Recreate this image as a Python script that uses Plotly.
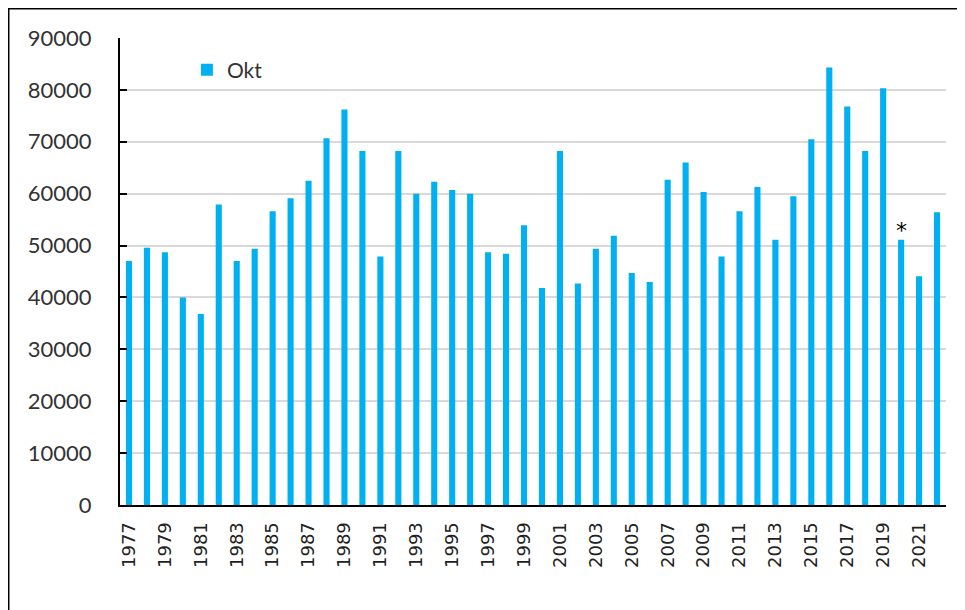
import plotly.graph_objects as go

# October values per year
years = list(range(1977, 2023))
okt = [
    47000, 49600, 48700, 40000, 36800, 57900, 47000, 49400, 56600, 59100,
    62500, 70700, 76200, 68200, 47900, 68200, 60000, 62300, 60700, 60000,
    48700, 48400, 53900, 41800, 68200, 42700, 49400, 51900, 44700, 43000,
    62700, 66000, 60300, 47900, 56600, 61300, 51100, 59500, 70500, 84300,
    76800, 68200, 80300, 51100, 44100, 56400,
]
tick_years = list(range(1977, 2023, 2))
y_ticks = list(range(0, 90001, 10000))
marked_year = 2020

BAR_COLOR = "#00B0F0"

fig = go.Figure()

fig.add_trace(go.Bar(
    x=years,
    y=okt,
    name="Okt",
    marker=dict(color=BAR_COLOR, line=dict(width=0)),
    showlegend=True,
))

# asterisk above the 2020 bar
fig.add_annotation(
    x=marked_year,
    y=okt[years.index(marked_year)],
    text="*",
    showarrow=False,
    yanchor="bottom",
    yshift=-5,
    font=dict(family="DejaVu Sans", size=22, color="#000000"),
)

# outer chart frame: only top and left edges are visible in the reference
fig.add_shape(
    type="line",
    xref="paper", yref="paper",
    x0=-0.1356, x1=1.2, y0=1.064, y1=1.064,
    line=dict(color="#000000", width=3),
    layer="above",
)
fig.add_shape(
    type="line",
    xref="paper", yref="paper",
    x0=-0.1356, x1=-0.1356, y0=-0.5, y1=1.064,
    line=dict(color="#000000", width=3),
    layer="above",
)

# page body has an 8px margin, so the figure is a bit smaller than the window
fig.update_layout(
    width=957,
    height=602,
    margin=dict(l=112, r=19, t=30, b=105),
    paper_bgcolor="white",
    plot_bgcolor="white",
    bargap=0.66,
    showlegend=True,
    legend=dict(
        x=0.081, y=0.975,
        xanchor="left", yanchor="top",
        bgcolor="rgba(0,0,0,0)",
        font=dict(family="Lato", size=21, color="#333333"),
    ),
    xaxis=dict(
        range=[1976.5, 2022.5],
        tickmode="array",
        tickvals=tick_years,
        ticktext=[str(y) for y in tick_years],
        tickangle=-90,
        tickfont=dict(family="DejaVu Sans", size=18, color="#222222"),
        showgrid=False,
        showline=True,
        linecolor="#000000",
        linewidth=2,
        ticks="",
        ticklabelstandoff=8,
        zeroline=False,
    ),
    yaxis=dict(
        range=[0, 90000],
        tickmode="array",
        tickvals=y_ticks,
        ticktext=[str(v) for v in y_ticks],
        tickfont=dict(family="Lato", size=22, color="#333333"),
        showgrid=True,
        gridcolor="#D9D9D9",
        gridwidth=2,
        showline=True,
        linecolor="#000000",
        linewidth=2,
        ticks="inside",
        ticklen=7,
        tickwidth=2,
        tickcolor="#000000",
        ticklabelstandoff=22,
        zeroline=False,
    ),
)

fig.write_html("out.html")
